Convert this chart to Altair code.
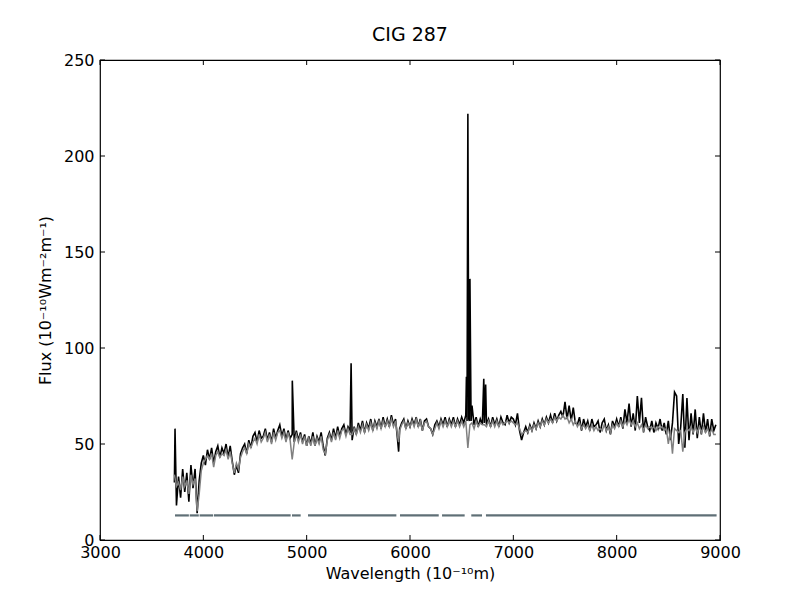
import altair as alt
import pandas as pd

# ---- data ----
wl_start, wl_step = 3720, 20   # sampling of the spectrum (Angstrom)

black_flux = [
    30, 18, 33, 22, 37, 25, 35, 20, 39, 27,   # 3720-3900
    37, 14, 31, 40, 44, 39, 47, 42, 48, 40,   # 3920-4100
    46, 49, 43, 48, 45, 50, 43, 49, 41, 34,   # 4120-4300
    39, 35, 45, 48, 50, 45, 52, 48, 54, 56,   # 4320-4500
    51, 57, 53, 54, 58, 52, 56, 51, 58, 53,   # 4520-4700
    57, 60, 54, 58, 52, 57, 53, 55, 51, 57,   # 4720-4900
    52, 56, 51, 55, 49, 54, 50, 56, 49, 54,   # 4920-5100
    51, 56, 49, 44, 53, 56, 52, 58, 53, 59,   # 5120-5300
    54, 58, 60, 55, 59, 57, 52, 59, 55, 61,   # 5320-5500
    57, 62, 56, 61, 58, 63, 57, 62, 59, 63,   # 5520-5700
    58, 64, 59, 63, 59, 65, 60, 63, 52, 58,   # 5720-5900
    61, 63, 58, 62, 59, 63, 60, 64, 59, 63,   # 5920-6100
    57, 62, 63, 59, 58, 55, 60, 62, 59, 63,   # 6120-6300
    60, 64, 59, 63, 60, 64, 59, 63, 60, 64,   # 6320-6500
    61, 65, 222, 136, 70, 60, 64, 59, 63, 60, # 6520-6700
    61, 60, 63, 59, 64, 60, 63, 59, 64, 61,   # 6720-6900
    60, 65, 61, 64, 63, 60, 66, 57, 52, 56,   # 6920-7100
    59, 56, 60, 57, 61, 58, 62, 59, 63, 60,   # 7120-7300
    64, 61, 65, 61, 66, 62, 65, 67, 64, 72,   # 7320-7500
    63, 70, 62, 69, 61, 60, 64, 57, 63, 59,   # 7520-7700
    62, 57, 63, 59, 60, 62, 56, 61, 63, 57,   # 7720-7900
    60, 55, 62, 59, 63, 59, 64, 58, 68, 61,   # 7920-8100
    71, 59, 66, 57, 75, 61, 74, 56, 64, 59,   # 8120-8300
    57, 62, 56, 61, 58, 63, 57, 61, 55, 62,   # 8320-8500
    52, 61, 77, 75, 50, 59, 76, 48, 74, 52,   # 8520-8700
    66, 55, 68, 53, 64, 55, 66, 56, 63, 54,   # 8720-8900
    63, 57, 60,                               # 8920-8960
]

gray_flux = [
    34, 28, 30, 26, 33, 28, 31, 24, 34, 29,   # 3720-3900
    32, 15, 24, 36, 40, 42, 44, 42, 45, 38,   # 3920-4100
    44, 46, 43, 45, 44, 47, 42, 46, 40, 35,   # 4120-4300
    40, 37, 43, 46, 48, 45, 50, 48, 51, 53,   # 4320-4500
    50, 55, 51, 53, 56, 51, 55, 50, 56, 52,   # 4520-4700
    56, 57, 53, 56, 51, 56, 52, 42, 51, 55,   # 4720-4900
    51, 55, 50, 54, 49, 53, 49, 54, 49, 53,   # 4920-5100
    50, 54, 47, 45, 52, 55, 51, 56, 52, 57,   # 5120-5300
    53, 57, 58, 54, 58, 55, 55, 58, 55, 59,   # 5320-5500
    56, 60, 56, 60, 57, 61, 57, 61, 58, 62,   # 5520-5700
    58, 62, 59, 62, 59, 63, 59, 62, 54, 57,   # 5720-5900
    60, 62, 58, 61, 59, 62, 59, 63, 59, 62,   # 5920-6100
    57, 61, 62, 59, 58, 55, 58, 61, 58, 62,   # 6120-6300
    59, 62, 59, 62, 59, 62, 59, 62, 59, 62,   # 6320-6500
    59, 62, 48, 60, 61, 58, 62, 59, 61, 60,   # 6520-6700
    60, 59, 62, 59, 62, 59, 62, 59, 62, 60,   # 6720-6900
    61, 62, 61, 62, 61, 60, 61, 58, 55, 56,   # 6920-7100
    57, 56, 59, 57, 60, 58, 61, 59, 62, 60,   # 7120-7300
    63, 61, 63, 61, 64, 62, 64, 63, 65, 63,   # 7320-7500
    64, 61, 63, 60, 62, 59, 61, 58, 60, 58,   # 7520-7700
    60, 57, 60, 57, 59, 57, 58, 57, 60, 57,   # 7720-7900
    59, 56, 60, 58, 61, 59, 62, 59, 62, 60,   # 7920-8100
    63, 60, 62, 59, 61, 58, 60, 57, 60, 58,   # 8120-8300
    59, 58, 59, 57, 59, 58, 59, 57, 58, 50,   # 8320-8500
    57, 45, 58, 57, 56, 57, 46, 56, 58, 57,   # 8520-8700
    59, 56, 59, 56, 59, 56, 59, 56, 58, 55,   # 8720-8900
    58, 55, 55,                               # 8920-8960
]

# narrow emission lines / absorption dips between grid samples
black_extra_wl = [3726, 4861, 5430, 5890, 6546, 6552, 6569, 6574, 6591, 6714, 6732]
black_extra_flux = [58, 83, 92, 46, 85, 62, 63, 62, 62, 84, 81]
gray_extra_wl = [5890]
gray_extra_flux = [51]

# masked-region indicator (segments drawn at constant level)
mask_start = [3726, 3868, 3964, 4103, 4858, 5013, 5903, 6310, 6593, 6735]
mask_end = [3860, 3956, 4095, 4845, 4942, 5868, 6278, 6529, 6697, 8967]
mask_level = 12.8

x_ticks = [3000, 4000, 5000, 6000, 7000, 8000, 9000]
y_ticks = [0, 50, 100, 150, 200, 250]

# ---- tables ----
grid = [wl_start + wl_step * i for i in range(len(black_flux))]
assert len(black_flux) == len(gray_flux) == 263

black_df = pd.DataFrame({"wl": grid + black_extra_wl,
                         "flux": black_flux + black_extra_flux}).sort_values("wl")
gray_df = pd.DataFrame({"wl": grid + gray_extra_wl,
                        "flux": gray_flux + gray_extra_flux}).sort_values("wl")
mask_df = pd.DataFrame({"s": mask_start, "e": mask_end,
                        "lvl": [mask_level] * len(mask_start)})
xt_df = pd.DataFrame({"t": x_ticks})
yt_df = pd.DataFrame({"t": y_ticks})

W, H = 620, 480
FONT = "DejaVu Sans"

xscale = alt.Scale(domain=[3000, 9000], nice=False, zero=False)
yscale = alt.Scale(domain=[0, 250], nice=False)

xaxis = alt.Axis(values=x_ticks, grid=False, ticks=False, domain=False,
                 labelFont=FONT, labelFontSize=16, labelColor="black",
                 labelPadding=4, format="d", labelFlush=False,
                 title="Wavelength (10⁻¹⁰m)", titleFont=FONT,
                 titleFontSize=16, titleFontWeight="normal",
                 titleColor="black", titlePadding=5)
yaxis = alt.Axis(values=y_ticks, grid=False, ticks=False, domain=False,
                 labelFont=FONT, labelFontSize=16, labelColor="black",
                 labelPadding=6, format="d", labelFlush=False,
                 title="Flux (10⁻¹⁰Wm⁻²m⁻¹)", titleFont=FONT,
                 titleFontSize=16, titleFontWeight="normal",
                 titleColor="black", titlePadding=10)


def X(field):
    return alt.X(field, type="quantitative", scale=xscale, axis=xaxis)


def Y(field):
    return alt.Y(field, type="quantitative", scale=yscale, axis=yaxis)


black_line = alt.Chart(black_df).mark_line(color="black", strokeWidth=1.6).encode(
    x=X("wl"), y=Y("flux"), order="wl:Q")
gray_line = alt.Chart(gray_df).mark_line(color="#808080", strokeWidth=1.5).encode(
    x=X("wl"), y=Y("flux"), order="wl:Q")
mask = alt.Chart(mask_df).mark_rule(color="#5f6f76", strokeWidth=2.2).encode(
    x=X("s"), x2="e", y=Y("lvl"))

tick_len = 5
xt_bottom = alt.Chart(xt_df).mark_rule(color="black", strokeWidth=1).encode(
    x=X("t"), y=alt.value(H), y2=alt.value(H - tick_len))
xt_top = alt.Chart(xt_df).mark_rule(color="black", strokeWidth=1).encode(
    x=X("t"), y=alt.value(0), y2=alt.value(tick_len))
yt_left = alt.Chart(yt_df).mark_rule(color="black", strokeWidth=1).encode(
    y=Y("t"), x=alt.value(0), x2=alt.value(tick_len))
yt_right = alt.Chart(yt_df).mark_rule(color="black", strokeWidth=1).encode(
    y=Y("t"), x=alt.value(W), x2=alt.value(W - tick_len))

chart = alt.layer(
    mask, black_line, gray_line, xt_bottom, xt_top, yt_left, yt_right
).properties(
    width=W, height=H,
    title=alt.TitleParams("CIG 287", font=FONT, fontSize=19,
                          fontWeight="normal", color="black", offset=7),
    autosize=alt.AutoSizeParams(type="none"),
    padding={"left": 92, "top": 52, "right": 72, "bottom": 52},
).configure(
    background="white",
    view=alt.ViewConfig(stroke="black", strokeWidth=1.2),
)

chart.save("out.html", embed_options={"renderer": "svg", "actions": False})
